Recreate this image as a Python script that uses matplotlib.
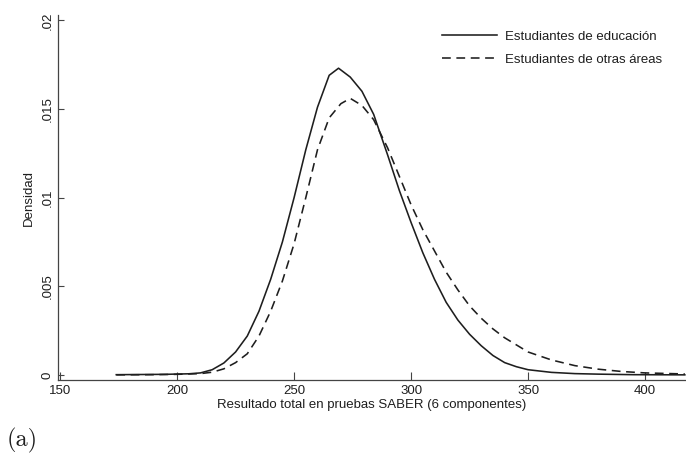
import matplotlib
matplotlib.use("Agg")
import matplotlib.pyplot as plt

# Kernel density estimates of total SABER score (6 components)
educ_x = [174, 185, 195, 205, 210, 215, 220, 225, 230, 235, 240, 245, 250, 255,
          260, 265, 269, 274, 279, 284, 290, 295, 300, 305, 310, 315, 320, 325,
          330, 335, 340, 345, 350, 360, 370, 380, 395, 417]
educ_y = [0.00002, 0.00003, 0.00004, 0.00007, 0.00012, 0.0003, 0.00068, 0.0013,
          0.0022, 0.0036, 0.0054, 0.0075, 0.0100, 0.0127, 0.0151, 0.0169, 0.0173,
          0.0168, 0.0160, 0.0147, 0.0124, 0.0104, 0.0086, 0.0069, 0.0054, 0.0041,
          0.0031, 0.0023, 0.00165, 0.0011, 0.0007, 0.00047, 0.0003, 0.00015,
          0.00008, 0.00005, 0.00002, 0.00001]

otras_x = [174, 190, 200, 210, 215, 220, 225, 230, 235, 240, 245, 250, 255, 260,
           265, 270, 274, 279, 284, 290, 295, 300, 305, 310, 315, 320, 325, 330,
           335, 340, 345, 350, 360, 370, 380, 390, 400, 417]
otras_y = [0.00001, 0.00002, 0.00004, 0.00008, 0.00016, 0.00035, 0.0007, 0.0012,
           0.0022, 0.0036, 0.0053, 0.0074, 0.0100, 0.0127, 0.0145, 0.0153, 0.0156,
           0.0152, 0.0144, 0.0128, 0.0112, 0.0096, 0.0082, 0.0070, 0.0058, 0.0048,
           0.0039, 0.0032, 0.0026, 0.0021, 0.0017, 0.0013, 0.00085, 0.00053,
           0.00033, 0.0002, 0.00012, 0.00006]

x_ticks = [150, 200, 250, 300, 350, 400]
y_ticks = [0, 0.005, 0.01, 0.015, 0.02]
y_tick_labels = ["0", ".005", ".01", ".015", ".02"]

labels = ["Estudiantes de educación", "Estudiantes de otras áreas"]

plt.rcParams["font.family"] = ["Liberation Sans", "DejaVu Sans"]
ink = "#1e1e1e"
axis_grey = "#444444"

fig = plt.figure(figsize=(6.86, 4.61), dpi=100)
ax = fig.add_axes([58 / 686, 81 / 461, 1 - 58 / 686, (380 - 15) / 461])

ax.plot(educ_x, educ_y, color=ink, lw=1.15, label=labels[0])
ax.plot(otras_x, otras_y, color=ink, lw=1.15, linestyle=(0, (5.5, 3.5)),
        label=labels[1])

ax.set_xlim(149.1, 417.5)
ax.set_ylim(-0.00028, 0.0203)

ax.set_xticks(x_ticks)
ax.set_yticks(y_ticks)
ax.set_yticklabels(y_tick_labels, rotation=90, va="center")
ax.tick_params(axis="both", direction="in", width=0.8, color=axis_grey,
               labelsize=9.5, labelcolor=ink)
ax.tick_params(axis="x", length=6, pad=3.5)
ax.tick_params(axis="y", length=4, pad=3.3)

for side in ("top", "right"):
    ax.spines[side].set_visible(False)
for side in ("left", "bottom"):
    ax.spines[side].set_color(axis_grey)
    ax.spines[side].set_linewidth(0.9)

ax.set_xlabel("Resultado total en pruebas SABER (6 componentes)", fontsize=9.5,
              color=ink, labelpad=1.5)
ax.set_ylabel("Densidad", fontsize=9.5, color=ink, labelpad=4.5)

leg = ax.legend(loc="upper right", bbox_to_anchor=(0.962, 0.958), frameon=False,
                fontsize=9.5, handlelength=4.15, handletextpad=0.6,
                labelspacing=0.85, borderaxespad=0, borderpad=0)
for t in leg.get_texts():
    t.set_color(ink)

fig.text(7 / 686, 1 - 440 / 461, "(a)", family=["cmr10", "DejaVu Serif"],
         fontsize=17.5, va="center", ha="left", color=ink)

fig.savefig("out.png", dpi=100, facecolor="white")
